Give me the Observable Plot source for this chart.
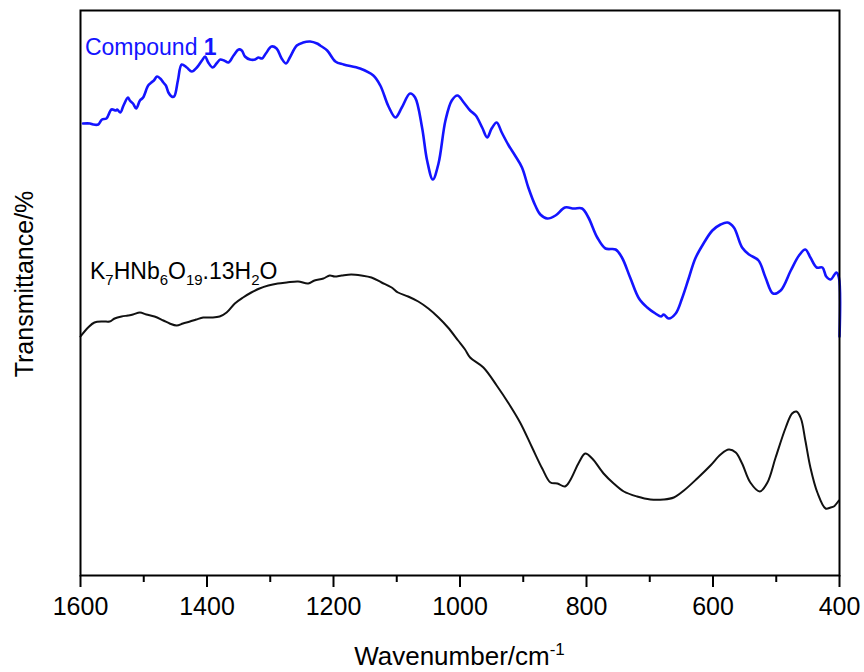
<!DOCTYPE html>
<html><head><meta charset="utf-8">
<script src="https://cdn.jsdelivr.net/npm/d3@7"></script>
<script src="https://cdn.jsdelivr.net/npm/@observablehq/plot@0.6"></script>
<style>body{margin:0;background:#fff;font-family:"Liberation Sans",Arial,sans-serif;}</style>
</head><body><div id="chart"></div>
<script>
// Compound 1 spectrum (wavenumber, transmittance in arbitrary units)
const compoundWavenumber = [1596,1585,1580,1572,1566,1559,1551,1544,1542,1537,1532,1525,1522,1517,1512,1506,1501,1493,1488,1484,1479,1474,1469,1465,1461,1456,1452,1446,1440,1432,1424,1416,1408,1403,1398,1391,1385,1379,1373,1366,1358,1350,1345,1340,1332,1324,1319,1313,1307,1298,1290,1282,1275,1269,1258,1248,1237,1226,1221,1210,1197,1184,1158,1137,1126,1113,1102,1092,1079,1071,1060,1052,1043,1034,1023,1013,1004,994,984,975,965,957,950,942,934,923,913,902,892,881,873,862,849,834,820,807,797,783,770,754,744,731,717,704,691,682,678,670,659,649,638,628,615,601,588,577,567,554,543,528,517,505,493,477,464,454,446,436,427,421,414,405,401,400];
const compoundT = [452,452,451,451,456,457,466,465,466,463,470,478,475,472,467,475,478,490,493,495,499,497,493,490,483,479,479,495,511,508,504,508,515,519,513,508,512,516,515,513,520,526,525,519,516,516,518,517,522,529,527,517,512,518,530,533,534,532,530,525,514,511,507,500,490,469,458,468,482,478,448,415,396,412,455,475,480,473,465,460,448,438,447,453,443,430,420,408,388,370,361,357,360,368,367,367,358,338,327,326,318,298,277,268,262,259,261,257,262,277,298,317,332,345,351,353,348,328,321,315,298,282,285,305,320,326,318,308,308,299,296,303,298,239];
// K7HNb6O19.13H2O spectrum
const k7Wavenumber = [1600,1588,1578,1564,1554,1546,1535,1525,1517,1506,1496,1483,1469,1459,1448,1438,1427,1417,1406,1393,1380,1369,1356,1343,1330,1317,1303,1288,1274,1256,1240,1230,1216,1206,1198,1187,1172,1156,1140,1124,1108,1098,1082,1066,1050,1034,1019,1003,992,984,963,942,923,905,886,870,857,846,834,826,812,802,791,773,757,741,720,699,678,662,646,625,604,588,575,564,554,541,526,514,501,485,475,468,461,454,446,435,422,414,409,401];
const k7T = [239,248,253,254,254,257,259,260,261,263,261,259,255,252,250,252,254,256,258,258,259,263,272,278,283,287,290,292,293,294,292,295,297,300,299,300,301,300,298,293,288,283,279,274,267,258,248,235,226,218,208,190,172,153,128,107,93,92,89,95,113,122,117,102,92,84,79,76,76,78,85,97,110,121,126,123,112,93,84,93,118,148,162,164,157,135,108,83,67,68,69,75];

const majorTicks = [1600,1400,1200,1000,800,600,400];
const minorTicks = [1500,1300,1100,900,700,500];
const seriesLabels = ["Compound 1", "K7HNb6O19.13H2O"];
const xTitle = "Wavenumber/cm-1";
const yTitle = "Transmittance/%";

const compound = compoundWavenumber.map((w, i) => ({w, t: compoundT[i]}));
const k7 = k7Wavenumber.map((w, i) => ({w, t: k7T[i]}));

const font = "Liberation Sans, Arial, sans-serif";
const plot = Plot.plot({
  width: 864, height: 672,
  marginLeft: 80, marginRight: 25, marginTop: 10, marginBottom: 97,
  style: {fontFamily: font, background: "#fff", color: "#000"},
  x: {domain: [1600, 400]},
  y: {domain: [0, 565], axis: null},
  marks: [
    Plot.line(k7, {x: "w", y: "t", stroke: "#111", strokeWidth: 2, curve: "catmull-rom"}),
    Plot.line(compound, {x: "w", y: "t", stroke: "#1414ff", strokeWidth: 2.6, curve: "catmull-rom"}),
    Plot.text([seriesLabels[0]], {x: 1593, y: 521, text: d => d, textAnchor: "start", lineAnchor: "bottom", fill: "#1414ff", fontSize: 23, className: "lab-compound"}),
    Plot.text([seriesLabels[1]], {x: 1585, y: 297, text: d => d, textAnchor: "start", lineAnchor: "bottom", fill: "#000", fontSize: 23, className: "lab-k7"}),
    Plot.axisX(majorTicks, {tickSize: 12, tickPadding: 10, strokeWidth: 2, fontSize: 25, label: null, tickFormat: d => String(d)}),
    Plot.axisX(minorTicks, {tickSize: 7, strokeWidth: 2, tickFormat: () => "", label: null}),
    Plot.frame({stroke: "#000", strokeWidth: 2})
  ]
});
document.getElementById("chart").appendChild(plot);

const svg = d3.select(plot);
function richText(sel, parts, baseSize) {
  sel.text(null);
  let cur = 0;
  for (const p of parts) {
    const off = p.sub ? 6 : p.sup ? -10 : 0;
    const ts = sel.append("tspan").attr("dy", off - cur).text(p.s);
    if (p.sub || p.sup) ts.attr("font-size", Math.round(baseSize * 0.64));
    if (p.bold) ts.attr("font-weight", "bold");
    cur = off;
  }
}
richText(svg.select(".lab-compound text"), [{s: "Compound "}, {s: "1", bold: true}], 23);
richText(svg.select(".lab-k7 text"), [
  {s: "K"}, {s: "7", sub: true}, {s: "HNb"}, {s: "6", sub: true}, {s: "O"}, {s: "19", sub: true},
  {s: ".13H"}, {s: "2", sub: true}, {s: "O"}
], 23);

// axis titles
const xs = plot.scale("x");
const xt = svg.append("text").attr("x", (xs.range[0] + xs.range[1]) / 2).attr("y", 665)
  .attr("text-anchor", "middle").attr("font-size", 26).attr("font-family", font).attr("fill", "#000");
richText(xt, [{s: "Wavenumber/cm"}, {s: "-1", sup: true}], 26);
svg.append("text").attr("transform", "translate(33,284) rotate(-90)")
  .attr("text-anchor", "middle").attr("font-size", 25).attr("font-family", font).attr("fill", "#000")
  .text(yTitle);
</script>
</body></html>
